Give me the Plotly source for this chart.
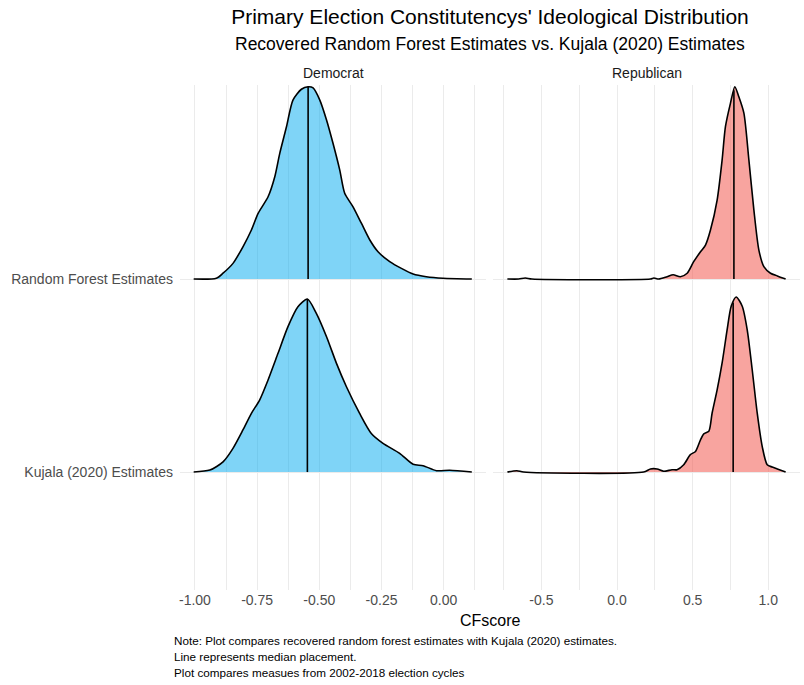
import numpy as np
import plotly.graph_objects as go

# ---------------- data ----------------
parties = ["Democrat", "Republican"]
sources = ["Random Forest Estimates", "Kujala (2020) Estimates"]
source_level = {"Kujala (2020) Estimates": 1, "Random Forest Estimates": 2}

dem_rf_x = [-1.005, -0.914, -0.887, -0.847, -0.807, -0.773, -0.746, -0.706, -0.679, -0.659,
            -0.632, -0.606, -0.572, -0.545, -0.525, -0.498, -0.471, -0.445, -0.418, -0.398,
            -0.365, -0.331, -0.297, -0.264, -0.217, -0.170, -0.123, -0.070, -0.003, 0.113]
dem_rf_h = [0, 0.004, 0.03, 0.081, 0.167, 0.254, 0.34, 0.426, 0.53, 0.651,
            0.789, 0.927, 0.983, 0.996, 0.99, 0.927, 0.824, 0.703, 0.565, 0.444,
            0.375, 0.289, 0.202, 0.141, 0.09, 0.055, 0.026, 0.012, 0.004, 0]

dem_kj_x = [-1.005, -0.94, -0.887, -0.847, -0.807, -0.773, -0.74, -0.706, -0.666, -0.626,
            -0.586, -0.548, -0.512, -0.471, -0.431, -0.391, -0.338, -0.291, -0.244, -0.177,
            -0.123, -0.083, -0.029, 0.024, 0.113]
dem_kj_h = [0, 0.01, 0.053, 0.123, 0.218, 0.304, 0.373, 0.477, 0.615, 0.753,
            0.856, 0.896, 0.822, 0.701, 0.563, 0.442, 0.304, 0.2, 0.149, 0.097,
            0.04, 0.033, 0.007, 0.009, 0]

rep_rf_x = [-0.725, -0.65, -0.607, -0.563, 0.221, 0.243, 0.276, 0.331, 0.371, 0.419,
            0.464, 0.507, 0.552, 0.585, 0.618, 0.662, 0.695, 0.717, 0.75, 0.779,
            0.805, 0.839, 0.872, 0.905, 0.938, 0.971, 1.015, 1.06, 1.115]
rep_rf_h = [0, 0, 0.005, 0, 0, 0.005, 0, 0.012, 0.022, 0.012,
            0.03, 0.09, 0.141, 0.176, 0.254, 0.409, 0.617, 0.789, 0.91, 0.996,
            0.945, 0.859, 0.617, 0.358, 0.15, 0.064, 0.03, 0.016, 0]

rep_kj_x = [-0.725, -0.662, -0.618, 0.176, 0.221, 0.265, 0.309, 0.364, 0.397, 0.441,
            0.485, 0.519, 0.552, 0.574, 0.607, 0.629, 0.662, 0.695, 0.728, 0.755,
            0.788, 0.828, 0.861, 0.894, 0.927, 0.96, 0.993, 1.026, 1.06, 1.115]
rep_kj_h = [0, 0.007, 0, 0, 0.016, 0.016, 0.004, 0.012, 0.012, 0.038,
            0.09, 0.107, 0.167, 0.198, 0.211, 0.306, 0.426, 0.565, 0.737, 0.859,
            0.907, 0.859, 0.737, 0.53, 0.306, 0.133, 0.038, 0.026, 0.016, 0]

medians = {
    ("Democrat", "Random Forest Estimates"): -0.545,
    ("Democrat", "Kujala (2020) Estimates"): -0.548,
    ("Republican", "Random Forest Estimates"): 0.773,
    ("Republican", "Kujala (2020) Estimates"): 0.768,
}

curves = {
    ("Democrat", "Random Forest Estimates"): (dem_rf_x, dem_rf_h),
    ("Democrat", "Kujala (2020) Estimates"): (dem_kj_x, dem_kj_h),
    ("Republican", "Random Forest Estimates"): (rep_rf_x, rep_rf_h),
    ("Republican", "Kujala (2020) Estimates"): (rep_kj_x, rep_kj_h),
}

party_fill = {"Democrat": "rgba(0,169,240,0.5)", "Republican": "rgba(243,90,80,0.55)"}

left_ticks = [-1.00, -0.75, -0.50, -0.25, 0.00]
left_ticktext = ["-1.00", "-0.75", "-0.50", "-0.25", "0.00"]
right_ticks = [-0.5, 0.0, 0.5, 1.0]
right_ticktext = ["-0.5", "0.0", "0.5", "1.0"]

# ---------------- figure ----------------
fig = go.Figure()
axis_ids = {"Democrat": ("x", "y"), "Republican": ("x2", "y2")}

for party in parties:
    xa, ya = axis_ids[party]
    for src in ["Kujala (2020) Estimates", "Random Forest Estimates"]:
        xs, hs = curves[(party, src)]
        base = source_level[src]
        xs = np.array(xs)
        ys = base + np.array(hs)
        fig.add_trace(go.Scatter(x=xs, y=np.full(len(xs), base), mode="lines",
                                 line=dict(width=0, color="rgba(0,0,0,0)"),
                                 xaxis=xa, yaxis=ya, showlegend=False, hoverinfo="skip"))
        fig.add_trace(go.Scatter(x=xs, y=ys, mode="lines", fill="tonexty",
                                 fillcolor=party_fill[party],
                                 line=dict(color="black", width=1.6, shape="spline", smoothing=0.7),
                                 xaxis=xa, yaxis=ya, showlegend=False))
        m = medians[(party, src)]
        hm = float(np.interp(m, xs, hs))
        fig.add_trace(go.Scatter(x=[m, m], y=[base, base + hm], mode="lines",
                                 line=dict(color="black", width=1.6),
                                 xaxis=xa, yaxis=ya, showlegend=False))

grid = "#EBEBEB"
tickfont = dict(family="Liberation Sans, Arial, sans-serif", size=14, color="#4D4D4D")
yrange = [0.389, 3.005]

fig.update_layout(
    width=804, height=685,
    margin=dict(l=180, r=4, t=85, b=95),
    paper_bgcolor="white", plot_bgcolor="white",
    font=dict(family="Liberation Sans, Arial, sans-serif"),
    title=dict(text="Primary Election Constitutencys' Ideological Distribution",
               x=0.5, xref="paper", xanchor="center", y=1 - 17 / 685, yanchor="middle",
               font=dict(size=21, color="black")),
    xaxis=dict(domain=[0, 306 / 620], range=[-1.06, 0.17], tickvals=left_ticks,
               ticktext=left_ticktext, showgrid=True, gridcolor=grid, gridwidth=1.2,
               zeroline=False, showline=False, ticks="", tickfont=tickfont,
               minor=dict(tick0=-1.125, dtick=0.25, showgrid=True, gridcolor=grid, gridwidth=0.7)),
    xaxis2=dict(domain=[313 / 620, 1], range=[-0.82, 1.21], tickvals=right_ticks,
                ticktext=right_ticktext, showgrid=True, gridcolor=grid, gridwidth=1.2,
                zeroline=False, showline=False, ticks="", tickfont=tickfont,
                minor=dict(tick0=-0.75, dtick=0.5, showgrid=True, gridcolor=grid, gridwidth=0.7)),
    yaxis=dict(range=yrange, tickvals=[source_level[s] for s in sources], ticktext=sources,
               showgrid=True, gridcolor=grid, gridwidth=1.2, zeroline=False, ticks="",
               tickfont=tickfont, anchor="x", ticklabelstandoff=6),
    yaxis2=dict(range=yrange, tickvals=[1, 2], showticklabels=False, matches="y",
                showgrid=True, gridcolor=grid, gridwidth=1.2, zeroline=False, ticks="",
                anchor="x2"),
)

ph = 685 - 85 - 95
def py(pix):
    return (590 - pix) / ph

annots = [
    dict(text="Recovered Random Forest Estimates vs. Kujala (2020) Estimates", x=0.5, y=py(44),
         font=dict(size=17.5, color="black")),
    dict(text="Democrat", x=153 / 620, y=py(73), font=dict(size=14, color="#1A1A1A")),
    dict(text="Republican", x=(313 + 153.5) / 620, y=py(73), font=dict(size=14, color="#1A1A1A")),
    dict(text="CFscore", x=0.5, y=py(620), font=dict(size=16, color="black")),
]
for a in annots:
    fig.add_annotation(xref="paper", yref="paper", xanchor="center", yanchor="middle",
                       showarrow=False, **a)

caption = ["Note: Plot compares recovered random forest estimates with Kujala (2020) estimates.",
           "Line represents median placement.",
           "Plot compares measues from 2002-2018 election cycles"]
for i, line in enumerate(caption):
    fig.add_annotation(xref="paper", yref="paper", x=(172 - 180) / 620, y=py(640 + 16 * i),
                       xanchor="left", yanchor="middle", showarrow=False, text=line,
                       font=dict(size=11.7, color="black"))

fig.write_html("out.html")
